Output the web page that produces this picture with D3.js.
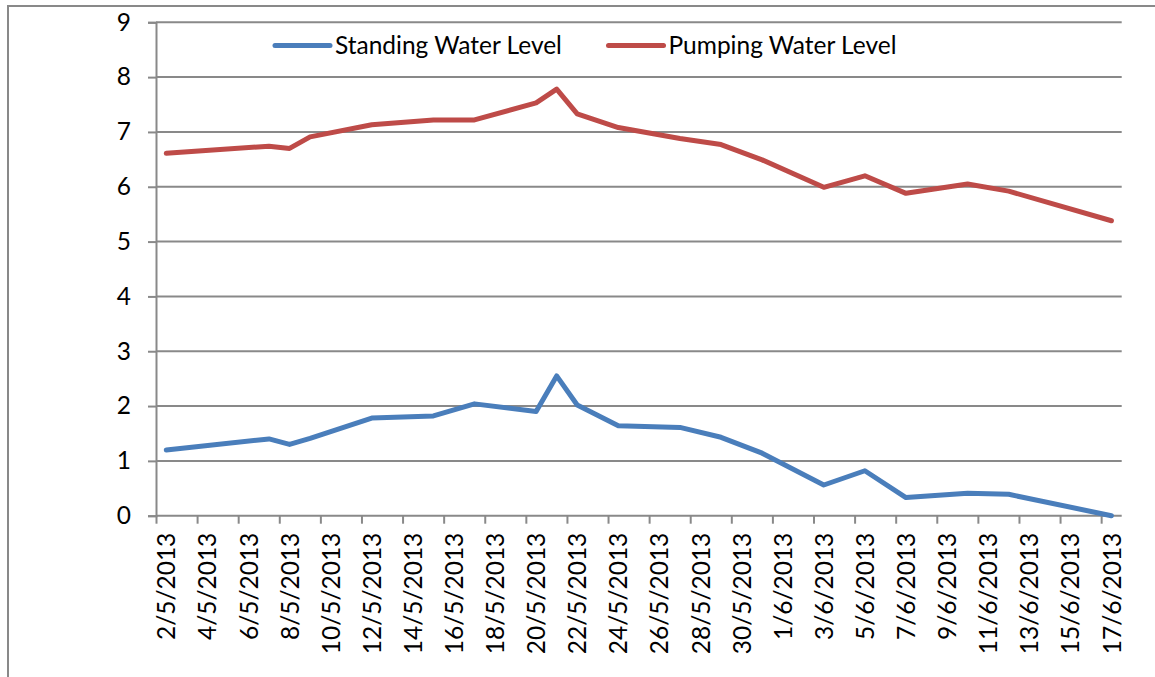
<!DOCTYPE html>
<html>
<head>
<meta charset="utf-8">
<script src="https://cdn.jsdelivr.net/npm/d3@7"></script>
<style>
  html, body { margin: 0; padding: 0; background: #fff; }
  svg { display: block; }
  text { font-family: Lato, "Open Sans", sans-serif; fill: #000; }
</style>
</head>
<body>
<svg id="chart" width="1155" height="677"></svg>
<script>
// ---- data ----
const dates = ["2013-05-02","2013-05-07","2013-05-08","2013-05-09","2013-05-12","2013-05-15","2013-05-17",
  "2013-05-20","2013-05-21","2013-05-22","2013-05-24","2013-05-27","2013-05-29","2013-05-31",
  "2013-06-03","2013-06-05","2013-06-07","2013-06-10","2013-06-12","2013-06-17"];
const standingWaterLevel = [1.20, 1.40, 1.30, 1.41, 1.78, 1.82, 2.04, 1.90, 2.55, 2.02, 1.64, 1.61, 1.43, 1.14,
  0.56, 0.82, 0.33, 0.41, 0.39, 0.00];
const pumpingWaterLevel = [6.61, 6.74, 6.70, 6.91, 7.13, 7.22, 7.22, 7.53, 7.78, 7.33, 7.08, 6.88, 6.77, 6.49,
  5.99, 6.20, 5.88, 6.05, 5.92, 5.38];
const xTickDates = ["2013-05-02","2013-05-04","2013-05-06","2013-05-08","2013-05-10","2013-05-12","2013-05-14",
  "2013-05-16","2013-05-18","2013-05-20","2013-05-22","2013-05-24","2013-05-26","2013-05-28","2013-05-30",
  "2013-06-01","2013-06-03","2013-06-05","2013-06-07","2013-06-09","2013-06-11","2013-06-13","2013-06-15","2013-06-17"];
const xTickLabels = ["2/5/2013","4/5/2013","6/5/2013","8/5/2013","10/5/2013","12/5/2013","14/5/2013",
  "16/5/2013","18/5/2013","20/5/2013","22/5/2013","24/5/2013","26/5/2013","28/5/2013","30/5/2013",
  "1/6/2013","3/6/2013","5/6/2013","7/6/2013","9/6/2013","11/6/2013","13/6/2013","15/6/2013","17/6/2013"];
const yTicks = [0,1,2,3,4,5,6,7,8,9];
const seriesNames = ["Standing Water Level", "Pumping Water Level"];
const seriesColors = ["#4A7EBB", "#BE4B48"];

// ---- layout ----
const svg = d3.select("#chart");
const parse = d3.utcParse("%Y-%m-%d");
const HALF_DAY = 12 * 3600 * 1000;
const plotLeft = 156, plotRight = 1121.7, plotTop = 22.3, plotBottom = 515.7;
const gridColor = "#898989";

// font fitting
const probe = svg.append("text").style("font-size", "26px").text("Standing Water Level");
const w = probe.node().getComputedTextLength();
probe.remove();
const fs = 26 * 227 / w;

const x = d3.scaleUtc()
  .domain([parse("2013-05-02"), parse("2013-06-18")])
  .range([plotLeft, plotRight]);
const y = d3.scaleLinear().domain([0, 9]).range([plotBottom, plotTop]);

// outer border
svg.append("rect").attr("x", 8).attr("y", 6).attr("width", 1300).attr("height", 1000)
  .attr("fill", "none").attr("stroke", gridColor).attr("stroke-width", 2);

// gridlines
svg.append("g").selectAll("line").data(yTicks.filter(d => d > 0)).join("line")
  .attr("x1", plotLeft).attr("x2", plotRight)
  .attr("y1", d => y(d)).attr("y2", d => y(d))
  .attr("stroke", gridColor).attr("stroke-width", 2);

// y axis
const yAxis = svg.append("g").attr("transform", `translate(${plotLeft},0)`)
  .call(d3.axisLeft(y).tickValues(yTicks).tickSize(8).tickPadding(17).tickFormat(d3.format("d")));
yAxis.select(".domain").attr("stroke", gridColor).attr("stroke-width", 2);
yAxis.selectAll(".tick line").attr("stroke", gridColor).attr("stroke-width", 2);
yAxis.selectAll("text").style("font-size", fs + "px").style("font-family", "Lato, sans-serif").attr("fill", "#000");

// x axis tick marks
const xTickVals = xTickDates.map(parse);
const xAxis = svg.append("g").attr("transform", `translate(0,${plotBottom})`)
  .call(d3.axisBottom(x).tickValues(xTickVals).tickSize(8).tickFormat(""));
xAxis.select(".domain").attr("stroke", gridColor).attr("stroke-width", 2)
  .attr("d", `M${plotLeft},0H${plotRight}`);
xAxis.selectAll(".tick line").attr("stroke", gridColor).attr("stroke-width", 2);

// x labels at day centres
const labelAxis = svg.append("g").attr("transform", `translate(0,${plotBottom})`)
  .call(d3.axisBottom(x).tickValues(xTickVals.map(d => new Date(+d + HALF_DAY)))
    .tickSize(0).tickFormat((d, i) => xTickLabels[i]));
labelAxis.select(".domain").remove();
labelAxis.selectAll("text")
  .style("font-size", fs + "px").style("font-family", "Lato, sans-serif").attr("fill", "#000")
  .attr("text-anchor", "end")
  .attr("transform", "rotate(-90)")
  .attr("x", -17).attr("y", 0).attr("dy", "0.35em");

// lines
const series = [standingWaterLevel, pumpingWaterLevel];
const line = d3.line()
  .x((d, i) => x(new Date(+parse(dates[i]) + HALF_DAY)))
  .y(d => y(d));
series.forEach((vals, k) => {
  svg.append("path").datum(vals)
    .attr("d", line)
    .attr("fill", "none")
    .attr("stroke", seriesColors[k])
    .attr("stroke-width", 5)
    .attr("stroke-linejoin", "round")
    .attr("stroke-linecap", "round");
});

// legend
const legendX = [275, 608.5];
const legendY = 45.5;
seriesNames.forEach((name, k) => {
  const g = svg.append("g").attr("transform", `translate(${legendX[k]},${legendY})`);
  g.append("line").attr("x1", 0).attr("x2", 55).attr("y1", 0).attr("y2", 0)
    .attr("stroke", seriesColors[k]).attr("stroke-width", 5).attr("stroke-linecap", "round");
  g.append("text").attr("x", 60).attr("y", 0).attr("dy", "0.35em")
    .style("font-size", fs + "px").text(name);
});
</script>
</body>
</html>
